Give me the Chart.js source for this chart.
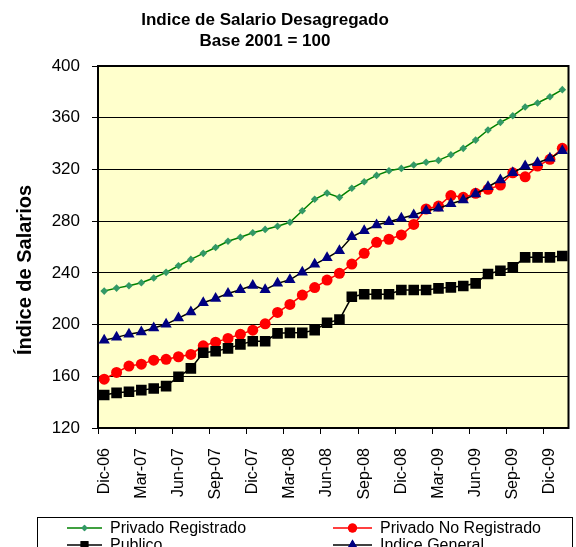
<!DOCTYPE html>
<html><head><meta charset="utf-8">
<script src="https://cdn.jsdelivr.net/npm/chart.js@4.4.0/dist/chart.umd.min.js"></script>
<style>html,body{margin:0;padding:0;background:#fff}#wrap{width:576px;height:547px;position:relative;overflow:hidden}</style>
</head><body><div id="wrap"><canvas id="c" width="576" height="547"></canvas></div>
<script>
const categories = ["Dic-06","Ene-07","Feb-07","Mar-07","Abr-07","May-07","Jun-07","Jul-07","Ago-07","Sep-07","Oct-07","Nov-07",
  "Dic-07","Ene-08","Feb-08","Mar-08","Abr-08","May-08","Jun-08","Jul-08","Ago-08","Sep-08","Oct-08","Nov-08",
  "Dic-08","Ene-09","Feb-09","Mar-09","Abr-09","May-09","Jun-09","Jul-09","Ago-09","Sep-09","Oct-09","Nov-09",
  "Dic-09","Ene-10"];
const tickLabels = ["Dic-06","Mar-07","Jun-07","Sep-07","Dic-07","Mar-08","Jun-08","Sep-08","Dic-08","Mar-09","Jun-09","Sep-09","Dic-09"];
const yTicks = [120,160,200,240,280,320,360,400];
const privadoRegistrado = [225.9,228.2,230.0,232.3,236.0,240.4,245.5,250.4,255.1,259.6,264.4,267.5,271.0,273.6,276.0,279.1,288.0,296.9,301.7,298.4,305.4,310.5,315.4,319.0,320.8,323.4,325.5,327.0,331.3,336.3,342.7,350.5,356.4,361.5,368.3,371.4,376.2,381.7];
const privadoNoRegistrado = [157.8,163.0,167.9,169.4,172.5,173.1,175.1,176.9,183.6,186.4,189.3,192.5,195.7,200.6,209.4,215.6,222.8,228.6,234.4,239.6,246.8,255.1,263.6,266.0,269.3,277.5,289.4,291.7,299.8,298.4,301.5,304.6,307.9,317.4,314.3,322.6,327.8,336.3];
const publico = [145.5,147.2,148.0,149.3,150.6,152.4,159.6,166.1,178.2,179.4,181.6,184.7,187.1,187.1,193.2,193.6,193.6,195.7,201.4,203.8,221.5,223.4,223.4,223.4,226.7,226.7,226.7,228.0,228.8,229.8,231.9,239.1,241.6,244.3,252.0,252.0,252.0,253.0];
const indiceGeneral = [187.8,190.1,192.6,194.2,197.3,200.2,205.0,209.7,216.9,220.2,224.1,227.0,230.3,227.0,231.9,234.6,240.5,246.6,251.6,257.1,267.9,272.6,277.0,279.5,282.2,284.7,288.0,289.9,293.5,296.3,301.0,306.6,311.8,317.4,322.6,325.2,328.6,334.5];
const seriesNames = ["Privado Registrado","Privado No Registrado","Publico","Indice General"];
const titleLines = ["Indice de Salario Desagregado","Base 2001 = 100"];
const yTitle = "Índice de Salarios";

const FONT = '"Liberation Sans", Arial, sans-serif';

const styles = [
  {line:'#008000', fill:'#339966', point:'rectRot', r:3.8, lr:3.2},
  {line:'#FF0000', fill:'#FF0000', point:'circle', r:5.5, lr:4.5},
  {line:'#000000', fill:'#000000', point:'rect', r:7.5, lr:5.5},
  {line:'#000000', fill:'#000080', point:'triangle', r:6.5, lr:5.5}
];
const values = [privadoRegistrado, privadoNoRegistrado, publico, indiceGeneral];
const orders = [3,2,1,0];

const datasets = values.map((v,k)=>({
  label: seriesNames[k],
  data: v,
  borderColor: styles[k].line,
  backgroundColor: styles[k].fill,
  pointBackgroundColor: styles[k].fill,
  pointBorderColor: styles[k].fill,
  pointStyle: styles[k].point,
  pointRadius: styles[k].r,
  pointBorderWidth: 0,
  borderWidth: 1.5,
  tension: 0,
  fill: false,
  order: orders[k]
}));

const decor = {
  id: 'decor',
  beforeDraw(chart){
    const {ctx, chartArea:a} = chart;
    ctx.save();
    ctx.fillStyle = '#ffffff';
    ctx.fillRect(0,0,chart.width,chart.height);
    ctx.fillStyle = '#FFFFCC';
    ctx.fillRect(a.left, a.top, a.right-a.left, a.bottom-a.top);
    ctx.restore();
  },
  beforeDatasetsDraw(chart){
    const {ctx, chartArea:a} = chart;
    ctx.save();
    ctx.strokeStyle = '#000';
    ctx.lineWidth = 2;
    ctx.strokeRect(a.left, a.top, a.right-a.left, a.bottom-a.top);
    ctx.restore();
  },
  afterDraw(chart){
    const ctx = chart.ctx;
    ctx.save();
    ctx.fillStyle = '#000';
    ctx.textAlign = 'center';
    ctx.textBaseline = 'middle';
    ctx.font = 'bold 17px ' + FONT;
    ctx.fillText(titleLines[0], 265, 20);
    ctx.fillText(titleLines[1], 265, 41);
    // y axis title
    ctx.save();
    ctx.translate(25, 270);
    ctx.rotate(-Math.PI/2);
    ctx.font = 'bold 20px ' + FONT;
    ctx.fillText(yTitle, 0, 0);
    ctx.restore();
    // legend
    ctx.strokeStyle = '#000';
    ctx.lineWidth = 1;
    ctx.strokeRect(37.5, 517.5, 535, 60);
    const pos = [[67,102,528],[333,372,528],[67,102,545],[333,372,545]];
    ctx.font = '16px ' + FONT;
    ctx.textAlign = 'left';
    for (let k=0;k<4;k++){
      const [x1,x2,y] = pos[k];
      ctx.strokeStyle = styles[k].line;
      ctx.lineWidth = 1.5;
      ctx.beginPath(); ctx.moveTo(x1,y); ctx.lineTo(x2,y); ctx.stroke();
      ctx.fillStyle = styles[k].fill;
      Chart.helpers.drawPoint(ctx, {pointStyle: styles[k].point, radius: styles[k].lr, borderWidth: 0}, (x1+x2)/2, y);
      ctx.fill();
      ctx.fillStyle = '#000';
      ctx.fillText(seriesNames[k], x2+8, y+1);
    }
    ctx.restore();
  }
};

new Chart(document.getElementById('c'), {
  type: 'line',
  data: { labels: categories, datasets },
  options: {
    responsive: false,
    animation: false,
    devicePixelRatio: 1,
    layout: { padding: { left: 0, right: 2, top: 66, bottom: 0 } },
    plugins: { legend: { display: false }, title: { display: false }, tooltip: { enabled: false } },
    scales: {
      x: {
        offset: true,
        grid: {
          offset: true,
          drawOnChartArea: false,
          drawTicks: true,
          tickLength: 6,
          color: (c) => (c.index % 3 === 0 ? '#000' : 'rgba(0,0,0,0)'),
          lineWidth: 1
        },
        border: { display: true, color: '#000', width: 2 },
        ticks: {
          autoSkip: false,
          minRotation: 90,
          maxRotation: 90,
          padding: 14,
          color: '#000',
          font: { family: FONT, size: 16 },
          callback: (v, i) => (i % 3 === 0 ? tickLabels[i/3] : '')
        },
        afterFit: (s) => { s.height = 119; s.paddingLeft = 0; s.paddingRight = 0; }
      },
      y: {
        min: yTicks[0],
        max: yTicks[yTicks.length-1],
        afterBuildTicks: (s) => { s.ticks = yTicks.map(v => ({value: v})); },
        grid: { color: '#000', lineWidth: 1, tickLength: 6, drawTicks: true },
        border: { display: true, color: '#000', width: 2 },
        ticks: {
          padding: 12,
          color: '#000',
          font: { family: FONT, size: 17 }
        },
        afterFit: (s) => { s.width = 98; s.paddingTop = 0; s.paddingBottom = 0; }
      }
    }
  },
  plugins: [decor]
});
</script>
</body></html>
